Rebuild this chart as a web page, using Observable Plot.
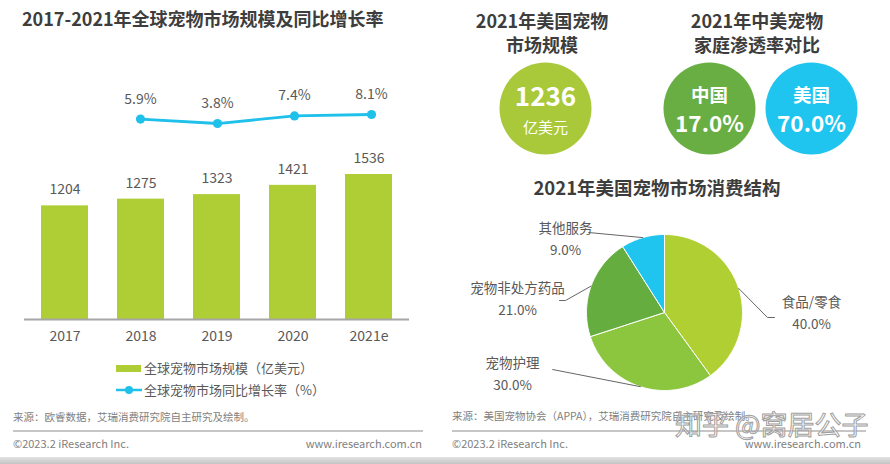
<!DOCTYPE html>
<html>
<head>
<meta charset="utf-8">
<script src="https://cdn.jsdelivr.net/npm/d3@7"></script>
<script src="https://cdn.jsdelivr.net/npm/@observablehq/plot@0.6"></script>
<style>
  body { margin: 0; background: #fff; }
  #page { position: relative; width: 890px; height: 464px; overflow: hidden; background: #fff;
          font-family: "Noto Sans CJK SC", "Noto Sans", sans-serif; }
  .abs { position: absolute; white-space: nowrap; }
  .abs svg { display: block; }
</style>
</head>
<body>
<div id="page"></div>
<script>
// ---------------- data ----------------
const years = ["2017", "2018", "2019", "2020", "2021e"];
const marketSize = [1204, 1275, 1323, 1421, 1536];            // 亿美元
const growthYears = ["2018", "2019", "2020", "2021e"];
const growthRate = [5.9, 3.8, 7.4, 8.1];                      // %
const usMarket2021 = 1236;                                    // 亿美元
const penetrationCountries = ["中国", "美国"];
const penetrationRates = [17.0, 70.0];                        // %
const structureCategories = ["食品/零食", "宠物护理", "宠物非处方药品", "其他服务"];
const structureShares = [40.0, 30.0, 21.0, 9.0];              // %

// ---------------- styles / layout ----------------
const FONT = '"Noto Sans CJK SC", "Noto Sans", sans-serif';
const TEXT = "#595959";
const TITLE = "#3d3d3d";
const GREEN = "#afcd34";
const BLUE = "#1fc0ea";
const bubbleColors = { market: "#a9c93b", "中国": "#68ae43", "美国": "#1fc5ef" };
const sliceColors = ["#b0cf33", "#8cc63f", "#64ad3e", "#1fc5ef"];

const page = document.getElementById("page");

function put(node, left, top) {
  const d = document.createElement("div");
  d.className = "abs";
  d.style.left = left + "px";
  d.style.top = top + "px";
  d.appendChild(node);
  page.appendChild(d);
  return d;
}
function label(text, { x, y, size = 14, weight = "normal", color = TEXT, anchor = "start", lh = 1.4 }) {
  const d = document.createElement("div");
  d.className = "abs";
  d.textContent = text;
  const h = Math.round(size * lh);
  d.style.fontSize = size + "px";
  d.style.lineHeight = h + "px";
  d.style.fontWeight = weight;
  d.style.color = color;
  d.style.top = (y - h / 2) + "px";
  if (anchor === "start") d.style.left = x + "px";
  else if (anchor === "middle") { d.style.left = x + "px"; d.style.transform = "translateX(-50%)"; }
  else { d.style.right = (890 - x) + "px"; }
  page.appendChild(d);
  return d;
}
function box(left, top, w, h, bg) {
  const d = document.createElement("div");
  d.className = "abs";
  Object.assign(d.style, { left: left + "px", top: top + "px", width: w + "px", height: h + "px", background: bg });
  page.appendChild(d);
  return d;
}

// ---------------- left panel: bars + growth line ----------------
const barData = years.map((year, i) => ({ year, value: marketSize[i] }));
const growthData = growthYears.map((year, i) => ({ year, rate: growthRate[i] }));
const xOpts = { domain: years, paddingInner: 0.377, paddingOuter: 0.19 };
const plotStyle = { fontFamily: FONT, fontSize: "14px", color: TEXT, background: "transparent", overflow: "visible" };

const barsPlot = Plot.plot({
  width: 430, height: 300,
  marginTop: 23, marginBottom: 41, marginLeft: 24, marginRight: 21,
  x: { ...xOpts, label: null, tickSize: 0, tickPadding: 12 },
  y: { domain: [0, 2500], axis: null },
  style: plotStyle,
  marks: [
    Plot.barY(barData, { x: "year", y: "value", fill: GREEN }),
    Plot.ruleY([0], { stroke: "#a6a6a6", strokeWidth: 2 }),
    Plot.text(barData, { x: "year", y: "value", text: d => String(d.value), dy: -16, fontSize: 14, fill: TEXT })
  ]
});
put(barsPlot, 0, 60);

const linePlot = Plot.plot({
  width: 430, height: 61,
  marginTop: 40, marginBottom: 0, marginLeft: 24, marginRight: 21,
  x: { ...xOpts, axis: null },
  y: { domain: [0, 10], axis: null },
  style: plotStyle,
  marks: [
    Plot.line(growthData, { x: "year", y: "rate", stroke: BLUE, strokeWidth: 2.8 }),
    Plot.dot(growthData, { x: "year", y: "rate", r: 4.6, fill: BLUE }),
    Plot.text(growthData, { x: "year", y: "rate", text: d => d.rate.toFixed(1) + "%", dy: -20, fontSize: 14, fill: TEXT })
  ]
});
put(linePlot, 0, 70);

label("2017-2021年全球宠物市场规模及同比增长率", { x: 22, y: 18, size: 18, weight: "bold", color: TITLE, lh: 1.2 });

// legend
box(116, 365, 25, 7, GREEN);
label("全球宠物市场规模（亿美元）", { x: 144, y: 368, size: 13 });
const lg = document.createElementNS("http://www.w3.org/2000/svg", "svg");
lg.setAttribute("width", "26"); lg.setAttribute("height", "12");
lg.innerHTML = `<line x1="0" y1="6" x2="26" y2="6" stroke="${BLUE}" stroke-width="2.5"/><circle cx="13" cy="6" r="4" fill="${BLUE}"/>`;
put(lg, 116, 384);
label("全球宠物市场同比增长率（%）", { x: 144, y: 390, size: 13 });

// footer left
label("来源：欧睿数据，艾瑞消费研究院自主研究及绘制。", { x: 13, y: 416, size: 10.5, color: "#808080" });
box(13, 430, 410, 2, "#c6c6c6");
label("©2023.2 iResearch Inc.", { x: 13, y: 443, size: 11, color: "#808080" });
label("www.iresearch.com.cn", { x: 422, y: 443, size: 11, color: "#808080", anchor: "end" });

// ---------------- right panel: titles ----------------
const T = { size: 18, weight: "bold", color: TITLE, anchor: "middle", lh: 1.1 };
label("2021年美国宠物", { x: 542, y: 19.5, ...T });
label("市场规模", { x: 542, y: 44, ...T });
label("2021年中美宠物", { x: 757, y: 19.5, ...T });
label("家庭渗透率对比", { x: 757, y: 44, ...T });
label("2021年美国宠物市场消费结构", { x: 657, y: 187, ...T, size: 18.5 });

// bubble: US market size
const marketPlot = Plot.plot({
  width: 200, height: 100, margin: 0,
  style: { ...plotStyle },
  marks: [
    Plot.dot([usMarket2021], { frameAnchor: "middle", r: 46, fill: bubbleColors.market }),
    Plot.text([usMarket2021], { frameAnchor: "middle", text: d => String(d), dy: -11, fontSize: 26, fontWeight: "bold", fill: "white" }),
    Plot.text([usMarket2021], { frameAnchor: "middle", text: () => "亿美元", dy: 20, fontSize: 15, fill: "white" })
  ]
});
put(marketPlot, 445, 58);

// bubbles: penetration
const penData = penetrationCountries.map((c, i) => ({ country: c, rate: penetrationRates[i] }));
const penPlot = Plot.plot({
  width: 260, height: 100, margin: 0,
  x: { type: "point", domain: penetrationCountries, range: [79, 181], padding: 0, axis: null },
  style: { ...plotStyle },
  marks: [
    Plot.dot(penData, { x: "country", r: 46, fill: d => bubbleColors[d.country] }),
    Plot.text(penData, { x: "country", text: "country", dy: -12, fontSize: 18.5, fontWeight: "bold", fill: "white" }),
    Plot.text(penData, { x: "country", text: d => d.rate.toFixed(1) + "%", dy: 16, fontSize: 22.5, fontWeight: "bold", fill: "white" })
  ]
});
put(penPlot, 630, 58);

// ---------------- pie: consumption structure ----------------
const R = 78;                       // pie radius in px
const CX = 219, CY = 117;           // pie centre inside its svg
const structure = structureCategories.map((cat, i) => ({ cat, share: structureShares[i] }));
const arcs = d3.pie().sort(null).value(d => d.share)(structure);
const slices = arcs.map(a => {
  const pts = [{ x: 0, y: 0 }];
  const n = Math.max(2, Math.ceil((a.endAngle - a.startAngle) / (Math.PI / 180)));
  for (let k = 0; k <= n; k++) {
    const t = a.startAngle + (a.endAngle - a.startAngle) * k / n;
    pts.push({ x: Math.sin(t), y: Math.cos(t) });
  }
  pts.push({ x: 0, y: 0 });
  return pts;
});
// label layout (px offsets from pie centre, y downward)
const labelLayout = [
  { elbow: [103, 5],   end: [110, 5],   text: [147, -10] },
  { elbow: [-112, 57], end: [-112, 57], text: [-152, 51] },
  { elbow: [-99, -12], end: [-105, -12], text: [-147, -24] },
  { elbow: [-76, -80], end: [-76, -80], text: [-99, -84] }
];
const u = ([px, py]) => ({ x: px / R, y: -py / R });
const leaders = arcs.flatMap((a, i) => {
  const mid = (a.startAngle + a.endAngle) / 2;
  const L = labelLayout[i];
  return [
    { cat: a.data.cat, x: Math.sin(mid), y: Math.cos(mid) },
    { cat: a.data.cat, ...u(L.elbow) },
    { cat: a.data.cat, ...u(L.end) }
  ];
});
const pieLabels = arcs.map((a, i) => ({ ...a.data, ...u(labelLayout[i].text) }));

const piePlot = Plot.plot({
  width: 445, height: 215, margin: 0,
  x: { domain: [-1, 1], range: [CX - R, CX + R], axis: null },
  y: { domain: [-1, 1], range: [CY + R, CY - R], axis: null },
  style: { ...plotStyle },
  marks: [
    ...slices.map((pts, i) => Plot.line(pts, { x: "x", y: "y", fill: sliceColors[i], stroke: "white", strokeWidth: 1, strokeLinejoin: "round" })),
    Plot.line(leaders, { x: "x", y: "y", z: "cat", stroke: "#666", strokeWidth: 1 }),
    Plot.text(pieLabels, { x: "x", y: "y", text: "cat", fontSize: 13.5, fill: TEXT }),
    Plot.text(pieLabels, { x: "x", y: "y", text: d => d.share.toFixed(1) + "%", dy: 22, fontSize: 13.5, fill: TEXT })
  ]
});
put(piePlot, 445, 195);

// footer right
label("来源：美国宠物协会（APPA），艾瑞消费研究院自主研究及绘制。", { x: 452, y: 415, size: 10.5, color: "#808080" });
box(452, 430, 414, 2, "#c6c6c6");
label("©2023.2 iResearch Inc.", { x: 452, y: 443, size: 11, color: "#808080" });
label("www.iresearch.com.cn", { x: 861, y: 443, size: 11, color: "#808080", anchor: "end" });

// watermark (overlays the footer, as in the reference)
const wm = label("知乎 @窝居公子", { x: 675, y: 424, size: 27, color: "rgba(255,255,255,0.55)" });
wm.style.webkitTextStroke = "1px #a0a0a0";

// bottom band
box(0, 457, 890, 7, "linear-gradient(#e2e2e2, #c4c4c4)");
</script>
</body>
</html>
